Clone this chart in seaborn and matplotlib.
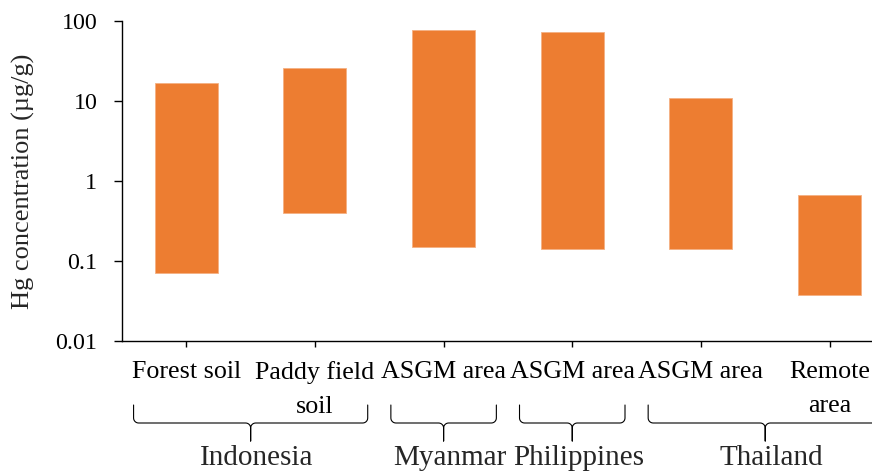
import numpy as np
import pandas as pd
import matplotlib
matplotlib.use("Agg")
import matplotlib.pyplot as plt
import matplotlib.transforms as mtransforms
from matplotlib.ticker import FixedLocator, NullLocator
import seaborn as sns


SITES     = ["Forest soil", "Paddy field\nsoil", "ASGM area",
             "ASGM area", "ASGM area", "Remote\narea"]
HG_MIN    = [0.070, 0.40, 0.15, 0.14, 0.14, 0.038]
HG_MAX    = [16.8, 25.3, 77.0, 72.0, 10.7, 0.67]

COUNTRIES     = ["Indonesia", "Myanmar", "Philippines", "Thailand"]
COUNTRY_FIRST = [0, 2, 3, 4]
COUNTRY_LAST  = [1, 2, 3, 5]

Y_TICKS  = [0.01, 0.1, 1, 10, 100]
Y_LABELS = ["0.01", "0.1", "1", "10", "100"]

ORANGE = "#ED7D31"
W, H   = 872, 475


def fy(px):
    # pixel row -> figure fraction
    return 1 - px / H


def brace_points(x0, x1, px_per_unit, top=405, mid=423, tip=441, r=5):
    xm = (x0 + x1) / 2
    rx = r / px_per_unit
    t = np.linspace(0, np.pi / 2, 8)
    xs, ys = [x0], [top]
    # left end curling into the horizontal
    xs += list(x0 + rx - rx * np.cos(t)); ys += list(mid - r + r * np.sin(t))
    # curl down into the centre stem
    xs += list(xm - rx + rx * np.sin(t)); ys += list(mid + r - r * np.cos(t))
    xs += [xm, xm, xm]; ys += [tip, mid + r, mid + r]
    xs += list(xm + rx - rx * np.sin(t[::-1])); ys += list(mid + r - r * np.cos(t[::-1]))
    xs += list(x1 - rx + rx * np.cos(t[::-1])); ys += list(mid - r + r * np.sin(t[::-1]))
    xs += [x1]; ys += [top]
    return np.array(xs), np.array([fy(v) for v in ys])


def main():
    sns.set_style("ticks")
    plt.rcParams["font.family"] = ["Liberation Serif", "DejaVu Serif"]

    df = pd.DataFrame({
        "site": range(len(SITES)),
        "low":  HG_MIN,
        "span": np.array(HG_MAX) - np.array(HG_MIN),
    })

    fig = plt.figure(figsize=(W / 100, H / 100), dpi=100)
    ax = fig.add_axes([122 / W, fy(341), 750 / W, (341 - 20.7) / H])

    sns.barplot(data=df, x="site", y="span", bottom=df["low"].values,
                color=ORANGE, saturation=1, width=0.49, errorbar=None,
                edgecolor="#F4B183", linewidth=0.6, ax=ax)

    ax.set_yscale("log")
    ax.set_ylim(0.01, 100)
    ax.set_xlim(-0.5, 5.33)
    ax.yaxis.set_major_locator(FixedLocator(Y_TICKS))
    ax.yaxis.set_minor_locator(NullLocator())
    ax.set_yticklabels(Y_LABELS)
    ax.set_xticks(range(len(SITES)))
    ax.set_xticklabels(SITES, linespacing=1.72)
    ax.set_xlabel("")
    ax.set_ylabel("")

    sns.despine(ax=ax)
    for s in ("left", "bottom"):
        ax.spines[s].set_linewidth(1.0)
        ax.spines[s].set_color("black")
    ax.tick_params(axis="y", length=5.8, width=1, pad=12, labelsize=17.3,
                   colors="black")
    ax.tick_params(axis="x", length=4.3, width=1, pad=10, labelsize=18.7,
                   colors="black")

    fig.text(23 / W, fy(181), "Hg concentration (µg/g)", rotation=90,
             ha="center", va="center", fontsize=19)

    # country brackets under the category labels
    blend = mtransforms.blended_transform_factory(ax.transData, fig.transFigure)
    for name, a, b in zip(COUNTRIES, COUNTRY_FIRST, COUNTRY_LAST):
        x0, x1 = a - 0.41, b + 0.41
        xs, ys = brace_points(x0, x1, 128.6)
        ax.plot(xs, ys, color="black", lw=0.8, transform=blend, clip_on=False)
        ax.text((x0 + x1) / 2 + 0.05, fy(465), name, transform=blend,
                ha="center", va="baseline", fontsize=21)

    fig.savefig("out.png", dpi=100)
    plt.close(fig)


if __name__ == "__main__":
    main()
